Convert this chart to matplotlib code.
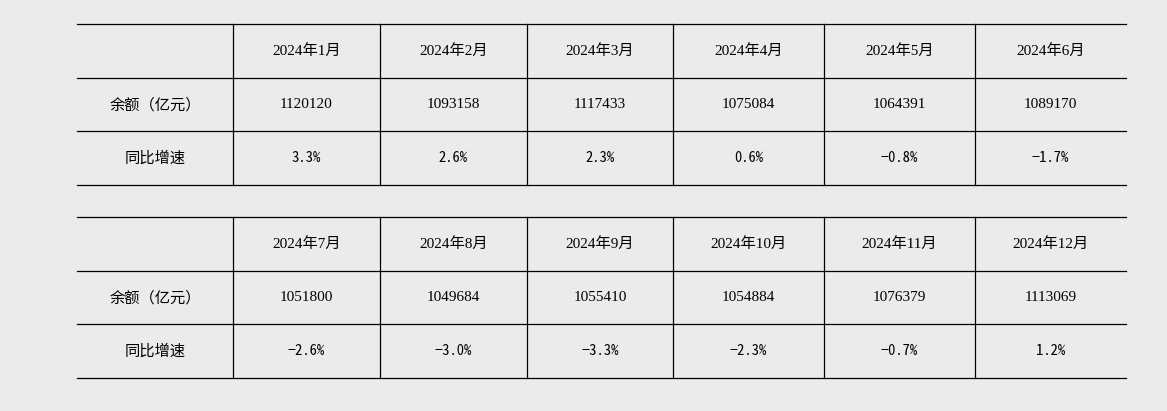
import matplotlib.pyplot as plt

months = ['2024年1月', '2024年2月', '2024年3月', '2024年4月', '2024年5月', '2024年6月',
          '2024年7月', '2024年8月', '2024年9月', '2024年10月', '2024年11月', '2024年12月']
balance = [1120120, 1093158, 1117433, 1075084, 1064391, 1089170,
           1051800, 1049684, 1055410, 1054884, 1076379, 1113069]
growth = [3.3, 2.6, 2.3, 0.6, -0.8, -1.7, -2.6, -3.0, -3.3, -2.3, -0.7, 1.2]
row_labels = ['余额（亿元）', '同比增速']

W, H = 1167, 411
fig = plt.figure(figsize=(W / 100, H / 100), dpi=100, facecolor='#ebebeb')
ax = fig.add_axes([0, 0, 1, 1])
ax.set_xlim(0, W)
ax.set_ylim(H, 0)
ax.axis('off')

col_edges = [77, 233, 380, 527, 673, 824, 975, 1126]
row_h = 53.7
tops = [24, 217]
serif = ['Liberation Serif', 'Noto Sans CJK SC']
cjk = ['Noto Sans CJK SC', 'DejaVu Sans']
fs = 11

for t, top in enumerate(tops):
    ys = [top + i * row_h for i in range(4)]
    for y in ys:
        ax.plot([col_edges[0], col_edges[-1]], [y, y], color='black', lw=0.9)
    for x in col_edges[1:-1]:
        ax.plot([x, x], [ys[0], ys[-1]], color='black', lw=0.9)
    centers = [(col_edges[i] + col_edges[i + 1]) / 2 for i in range(7)]
    for r, lab in enumerate(row_labels):
        ax.text(centers[0], ys[r + 1] + row_h / 2, lab, ha='center', va='center',
                family=cjk, fontsize=fs)
    for j in range(6):
        k = t * 6 + j
        cx = centers[j + 1]
        ax.text(cx, ys[0] + row_h / 2, months[k], ha='center', va='center',
                family=serif, fontsize=fs)
        ax.text(cx, ys[1] + row_h / 2, str(balance[k]), ha='center', va='center',
                family=serif, fontsize=fs)
        ax.text(cx, ys[2] + row_h / 2, f'{growth[k]:.1f}%'.replace('-', '−'),
                ha='center', va='center', family=['Noto Sans Mono CJK SC', 'Noto Sans CJK SC', 'DejaVu Sans'],
                fontsize=fs - 0.5)

fig.savefig('out.png', dpi=100, facecolor=fig.get_facecolor())
